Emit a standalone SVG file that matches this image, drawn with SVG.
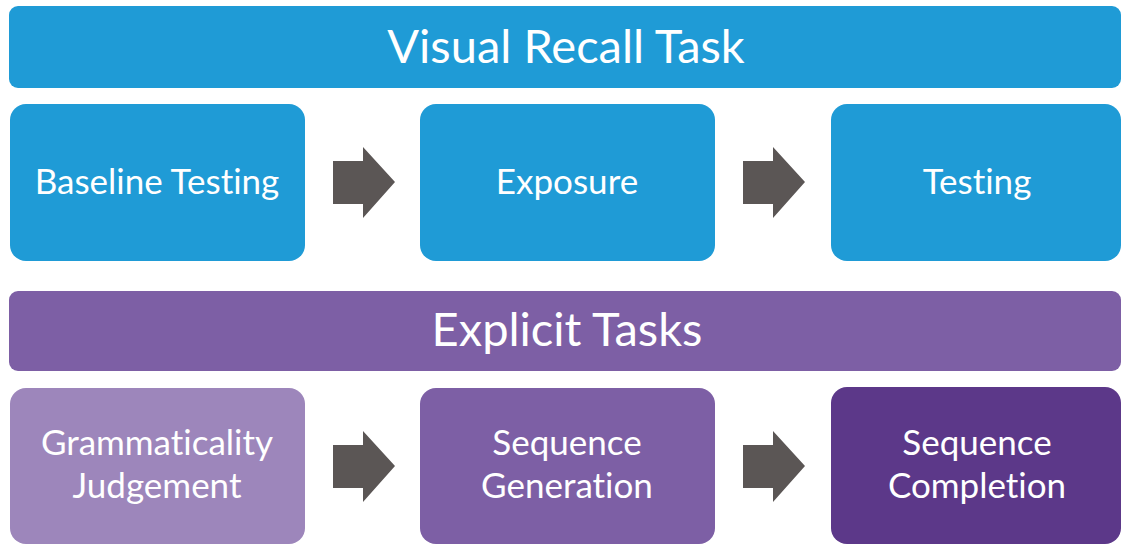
<svg xmlns="http://www.w3.org/2000/svg" width="1121" height="545" viewBox="0 0 1121 545">
  <style>
    .t { font-family: "Lato", "Open Sans", sans-serif; fill: #ffffff; text-anchor: middle; font-variant-ligatures: none; }
    .hd { font-size: 47px; }
    .bx { font-size: 35px; }
    .blue { fill: #1F9BD6; }
    .arrow { fill: #5B5655; }
  </style>
  <defs>
    <path id="arr" d="M0,14 H30 V0 L62,35 L30,71 V57 H0 Z"/>
  </defs>
  <rect width="1121" height="545" fill="#ffffff"/>

  <g id="visual-recall-header">
    <rect class="blue" x="9" y="6" width="1112" height="82" rx="9"/>
    <text class="t hd" x="566" y="63">Visual Recall Task</text>
  </g>
  <g id="baseline-testing">
    <rect class="blue" x="10" y="104" width="295" height="157" rx="16"/>
    <text class="t bx" x="157" y="194">Baseline Testing</text>
  </g>
  <g id="exposure">
    <rect class="blue" x="420" y="104" width="295" height="157" rx="16"/>
    <text class="t bx" x="567" y="194">Exposure</text>
  </g>
  <g id="testing">
    <rect class="blue" x="831" y="104" width="290" height="157" rx="16"/>
    <text class="t bx" x="977" y="194">Testing</text>
  </g>

  <g id="explicit-header">
    <rect x="9" y="291" width="1112" height="80" rx="9" fill="#7D5FA5"/>
    <text class="t hd" x="567" y="346">Explicit Tasks</text>
  </g>
  <g id="grammaticality-judgement">
    <rect x="10" y="388" width="295" height="156" rx="16" fill="#9D86BB"/>
    <text class="t bx" x="157" y="455">Grammaticality</text>
    <text class="t bx" x="157" y="498">Judgement</text>
  </g>
  <g id="sequence-generation">
    <rect x="420" y="388" width="295" height="156" rx="16" fill="#7D5FA5"/>
    <text class="t bx" x="567" y="455">Sequence</text>
    <text class="t bx" x="567" y="498">Generation</text>
  </g>
  <g id="sequence-completion">
    <rect x="831" y="387" width="290" height="157" rx="16" fill="#5C3889"/>
    <text class="t bx" x="977" y="455">Sequence</text>
    <text class="t bx" x="977" y="498">Completion</text>
  </g>

  <g id="connectors" class="arrow">
    <use href="#arr" x="333" y="147"/>
    <use href="#arr" x="743" y="147"/>
    <use href="#arr" x="333" y="431"/>
    <use href="#arr" x="743" y="431"/>
  </g>
</svg>
